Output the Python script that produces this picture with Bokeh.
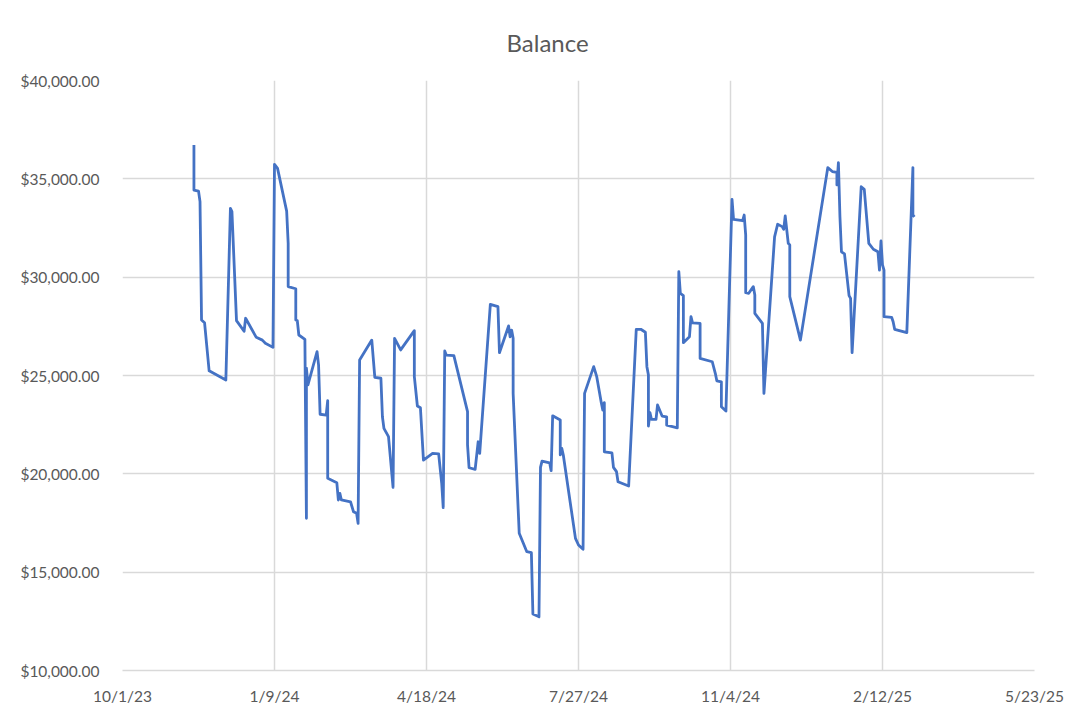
import pandas as pd
from bokeh.plotting import figure
from bokeh.models import FixedTicker, NumeralTickFormatter, Range1d, ColumnDataSource
from bokeh.embed import file_html
from bokeh.resources import INLINE

# ---- data ----
dates = [
    "2023-11-17", "2023-11-17", "2023-11-20", "2023-11-21", "2023-11-22", "2023-11-24", "2023-11-27",
    "2023-12-08", "2023-12-11", "2023-12-12", "2023-12-15", "2023-12-20", "2023-12-21", "2023-12-28",
    "2024-01-01", "2024-01-03", "2024-01-08", "2024-01-09", "2024-01-11", "2024-01-17", "2024-01-18",
    "2024-01-18", "2024-01-23", "2024-01-23", "2024-01-24", "2024-01-25", "2024-01-29", "2024-01-30",
    "2024-01-30", "2024-01-31", "2024-02-06", "2024-02-07", "2024-02-08", "2024-02-12", "2024-02-13",
    "2024-02-13", "2024-02-19", "2024-02-20", "2024-02-21", "2024-02-22", "2024-02-28", "2024-03-01",
    "2024-03-03", "2024-03-04", "2024-03-05", "2024-03-13", "2024-03-15", "2024-03-19", "2024-03-20",
    "2024-03-21", "2024-03-24", "2024-03-27", "2024-03-28", "2024-04-01", "2024-04-10", "2024-04-10",
    "2024-04-12", "2024-04-14", "2024-04-16", "2024-04-22", "2024-04-26", "2024-04-28", "2024-04-29",
    "2024-04-30", "2024-05-01", "2024-05-06", "2024-05-15", "2024-05-15", "2024-05-16", "2024-05-20",
    "2024-05-22", "2024-05-23", "2024-05-30", "2024-06-04", "2024-06-05", "2024-06-11", "2024-06-12",
    "2024-06-13", "2024-06-14", "2024-06-14", "2024-06-18", "2024-06-23", "2024-06-26", "2024-06-27",
    "2024-07-01", "2024-07-02", "2024-07-03", "2024-07-08", "2024-07-09", "2024-07-10", "2024-07-15",
    "2024-07-15", "2024-07-16", "2024-07-17", "2024-07-25", "2024-07-27", "2024-07-30", "2024-07-31",
    "2024-08-06", "2024-08-08", "2024-08-11", "2024-08-12", "2024-08-13", "2024-08-13", "2024-08-18",
    "2024-08-19", "2024-08-21", "2024-08-22", "2024-08-29", "2024-09-03", "2024-09-06", "2024-09-09",
    "2024-09-10", "2024-09-11", "2024-09-11", "2024-09-12", "2024-09-13", "2024-09-16", "2024-09-17",
    "2024-09-20", "2024-09-23", "2024-09-23", "2024-09-30", "2024-10-01", "2024-10-02", "2024-10-04",
    "2024-10-04", "2024-10-08", "2024-10-09", "2024-10-10", "2024-10-15", "2024-10-15", "2024-10-23",
    "2024-10-25", "2024-10-26", "2024-10-29", "2024-10-29", "2024-11-01", "2024-11-05", "2024-11-06",
    "2024-11-12", "2024-11-13", "2024-11-14", "2024-11-14", "2024-11-16", "2024-11-19", "2024-11-20",
    "2024-11-20", "2024-11-25", "2024-11-26", "2024-12-03", "2024-12-05", "2024-12-08", "2024-12-09",
    "2024-12-10", "2024-12-12", "2024-12-13", "2024-12-13", "2024-12-20", "2025-01-07", "2025-01-10",
    "2025-01-13", "2025-01-13", "2025-01-14", "2025-01-15", "2025-01-16", "2025-01-18", "2025-01-21",
    "2025-01-22", "2025-01-23", "2025-01-29", "2025-01-31", "2025-02-03", "2025-02-06", "2025-02-09",
    "2025-02-10", "2025-02-11", "2025-02-12", "2025-02-13", "2025-02-13", "2025-02-18", "2025-02-19",
    "2025-02-20", "2025-02-28", "2025-03-04", "2025-03-04", "2025-03-05",
]
balance = [
    36720, 34430, 34380, 33840, 27820, 27680, 25240,
    24770, 33500, 33330, 27790, 27250, 27910, 26940,
    26800, 26640, 26430, 35740, 35530, 33360, 31720,
    29520, 29410, 27820, 27790, 27060, 26840, 17740,
    25370, 24520, 26210, 25530, 23030, 22990, 23720,
    19770, 19550, 18670, 19010, 18670, 18580, 18070,
    17990, 17480, 25790, 26800, 24910, 24860, 22900,
    22310, 21890, 19310, 26890, 26300, 27280, 24940,
    23450, 23360, 20700, 21040, 21010, 19520, 18280,
    26250, 26040, 26010, 23160, 21470, 20310, 20230,
    21630, 21040, 28620, 28500, 26160, 27520, 26970,
    27310, 26890, 24090, 16980, 16040, 15990, 12870,
    12730, 20330, 20650, 20560, 20160, 22950, 22740,
    20960, 21300, 20960, 16720, 16380, 16160, 24090,
    25450, 24940, 23620, 23240, 23620, 21120, 21070,
    20330, 20110, 19600, 19380, 27350, 27350, 27200,
    25450, 25030, 22430, 23110, 22770, 22770, 23500,
    22940, 22900, 22480, 22340, 30280, 29180, 29060,
    26670, 26970, 27990, 27680, 27650, 25870, 25700,
    25110, 24730, 24680, 23410, 23190, 33960, 32940,
    32870, 33160, 32140, 29210, 29180, 29520, 29090,
    28160, 27650, 24090, 32050, 32690, 32570, 32430,
    33110, 31720, 31640, 29010, 26800, 35570, 35370,
    35330, 34690, 35820, 33070, 31290, 31180, 29060,
    28920, 26160, 34600, 34470, 31720, 31420, 31290,
    30360, 31840, 30620, 30360, 27990, 27960, 27730,
    27350, 27180, 35570, 33160, 33070,
]
x_tick_dates = ["2023-10-01", "2024-01-09", "2024-04-18", "2024-07-27",
                "2024-11-04", "2025-02-12", "2025-05-23"]
x_tick_labels = ["10/1/23", "1/9/24", "4/18/24", "7/27/24", "11/4/24", "2/12/25", "5/23/25"]
y_ticks = [10000, 15000, 20000, 25000, 30000, 35000, 40000]
title_text = "Balance"

FONT = "Lato"
TXT = "#595959"
GRID = "#d9d9d9"

src = ColumnDataSource(dict(date=pd.to_datetime(dates), balance=balance))
tick_ms = [int(pd.Timestamp(d).value // 10**6) for d in x_tick_dates]

p = figure(width=1076, height=711, x_axis_type="datetime",
           output_backend="svg", toolbar_location=None,
           x_range=Range1d(pd.Timestamp(x_tick_dates[0]), pd.Timestamp(x_tick_dates[-1])),
           y_range=Range1d(y_ticks[0], y_ticks[-1]),
           min_border_left=122, min_border_right=42, min_border_top=80, min_border_bottom=41)
p.background_fill_color = "white"
p.border_fill_color = "white"
p.outline_line_color = None

p.title.text = title_text
p.title.align = "left"
p.title.offset = 384
p.title.standoff = 48
p.title.vertical_align = "bottom"
p.title.text_font = FONT
p.title.text_font_size = "24px"
p.title.text_font_style = "normal"
p.title.text_color = TXT

p.line("date", "balance", source=src, line_color="#4472C4", line_width=2.8,
       line_join="round")

# x axis
p.xaxis.ticker = FixedTicker(ticks=tick_ms)
p.xaxis.major_label_overrides = {t: l for t, l in zip(tick_ms, x_tick_labels)}
p.xaxis.axis_line_color = GRID
p.xaxis.axis_line_width = 1.5
p.xaxis.major_label_standoff = 10

# y axis
p.yaxis.ticker = FixedTicker(ticks=y_ticks)
p.yaxis.formatter = NumeralTickFormatter(format="$0,0.00")
p.yaxis.axis_line_color = None
p.yaxis.major_label_standoff = 17

for ax in (p.xaxis, p.yaxis):
    ax.major_tick_line_color = None
    ax.minor_tick_line_color = None
    ax.major_label_text_font = FONT
    ax.major_label_text_font_size = "15.5px"
    ax.major_label_text_color = TXT

p.xgrid.grid_line_color = GRID
p.xgrid.grid_line_width = 1.5
p.ygrid.grid_line_color = GRID
p.ygrid.grid_line_width = 1.5

open("out.html", "w").write(file_html(p, INLINE))
